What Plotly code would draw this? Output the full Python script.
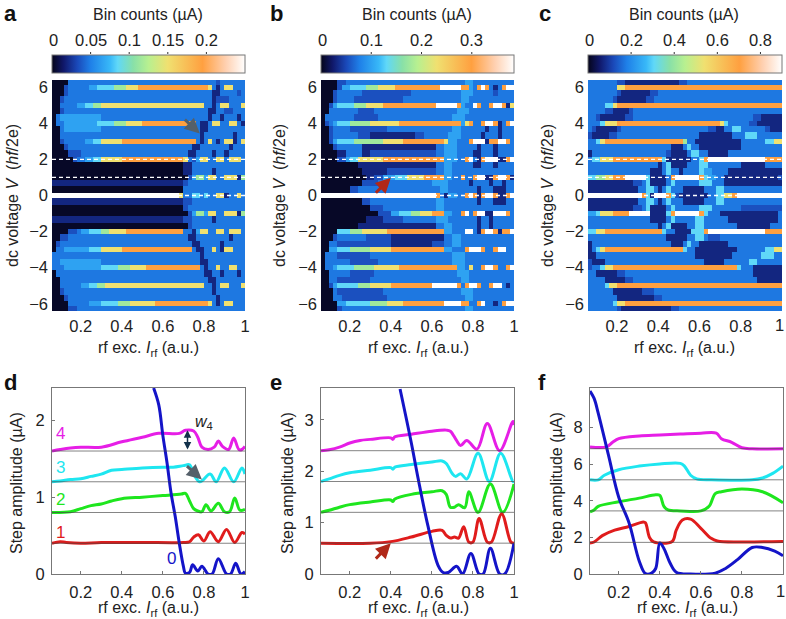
import plotly.graph_objects as go

W, H = 786, 619
FONT = "Liberation Sans"

# level -> fraction of colour range
level_frac = [0.01, 0.08, 0.14, 0.19, 0.26, 0.34, 0.46, 0.60, 0.78, 1.0]
cmax_a, cmax_b, cmax_c = 0.25, 0.384, 0.90
cb_ticks_a = [0, 0.05, 0.1, 0.15, 0.2]
cb_ticks_b = [0, 0.1, 0.2, 0.3]
cb_ticks_c = [0, 0.2, 0.4, 0.6, 0.8]
cb_text_a = ["0", "0.05", "0.1", "0.15", "0.2"]
cb_text_b = ["0", "0.1", "0.2", "0.3"]
cb_text_c = ["0", "0.2", "0.4", "0.6", "0.8"]

# Each row: runs "level:end" (end = rf excitation x 100), top of map to bottom.
rows_a = [
"0:13 2:15 3:85 2:88 3:100",
"0:12 2:14 3:24 4:29 5:36 6:41 7:48 8:81 7:83 3:85 1:87 3:90 7:94 3:100",
"0:11 2:13 3:84 1:87 3:96 2:97 3:100",
"0:10 2:12 3:84 1:86 2:92 3:100",
"0:09 3:18 4:22 5:26 6:30 7:80 3:83 1:85 3:88 7:91 3:97 7:100",
"0:09 2:11 3:82 1:85 3:90 2:93 3:100",
"0:08 3:10 4:30 3:81 1:83 3:88 1:90 3:95 1:97 3:100",
"0:08 3:11 4:28 5:36 6:42 7:50 8:76 3:78 1:81 3:84 7:87 3:92 7:95 3:97 1:99 3:100",
"0:09 3:11 4:30 3:77 1:81 3:100",
"0:09 3:77 1:80 3:87 1:88 3:94 1:95 3:100",
"0:10 2:12 3:22 4:26 5:30 7:40 8:76 3:77 1:79 3:81 7:84 3:86 1:88 3:90 7:93 3:94 1:96 3:97 7:100",
"0:11 2:13 3:74 1:77 3:85 1:86 3:91 1:93 3:100",
"0:15 2:20 3:72 1:75 3:84 1:85 3:90 1:92 3:100",
"0:16 2:18 3:22 4:25 5:30 7:40 8:70 7:72 3:74 2:76 4:78 7:82 3:85 7:90 3:92 7:97 3:100",
"0:70 1:74 3:100",
"0:70 1:73 3:84 1:85 3:100",
"0:71 2:73 4:75 6:79 4:81 7:86 3:89 7:95 1:97 6:100",
"1:70 2:72 3:100",
"0:69 3:100",
"9:68 7:70 3:73 5:78 3:80 5:82 3:85 7:90 1:92 3:95 7:98 3:100",
"1:70 2:73 3:100",
"0:69 2:72 3:100",
"0:72 2:74 4:75 6:79 4:81 7:86 3:89 7:95 1:97 6:100",
"1:70 2:73 3:84 1:85 3:100",
"0:71 2:74 3:100",
"0:15 2:17 3:20 4:24 5:30 6:34 7:42 8:70 3:74 1:76 4:78 7:82 3:85 7:90 3:92 7:97 3:100",
"0:10 2:13 3:72 1:76 3:85 1:86 3:91 1:93 3:100",
"0:08 2:10 3:74 1:77 3:88 1:89 3:100",
"0:08 3:12 4:24 5:30 7:40 8:74 3:76 1:80 3:83 7:86 3:88 1:89 3:90 7:94 3:100",
"0:07 3:77 1:80 3:100",
"0:07 3:10 4:30 3:78 1:81 3:100",
"0:07 3:11 4:30 5:38 6:44 7:52 8:77 3:79 1:82 3:85 7:88 3:92 7:95 3:100",
"0:08 3:79 1:83 3:88 1:90 3:95 1:97 3:100",
"0:09 3:82 1:85 3:100",
"0:09 3:20 4:24 5:28 6:32 7:80 3:83 1:85 3:88 7:91 3:97 7:100",
"0:10 2:12 3:84 1:86 3:100",
"0:11 2:13 3:85 1:87 3:100",
"0:13 2:15 3:24 4:30 5:38 6:44 7:56 8:81 7:83 3:86 1:88 3:90 7:94 3:100",
"0:14 2:17 3:100",
]
rows_b = [
"0:14 2:17 3:76 4:80 3:100",
"0:13 2:16 4:20 5:28 6:34 7:42 8:64 9:74 8:77 4:79 3:82 8:84 9:86 8:87 3:89 1:91 3:93 8:95 9:100",
"0:12 2:15 3:25 2:50 3:74 4:79 3:90 2:91 3:100",
"0:11 2:13 3:22 2:45 3:73 4:78 3:100",
"0:09 2:11 4:14 5:22 6:28 7:36 8:62 9:72 8:74 4:76 3:79 8:80 9:82 8:83 3:88 8:89 9:94 8:95 1:98 7:100",
"0:09 2:10 3:24 2:32 3:72 4:77 3:100",
"0:08 3:22 2:34 3:70 4:75 3:100",
"0:08 2:09 3:11 4:14 5:20 6:30 7:44 8:73 7:74 4:76 7:78 8:80 3:84 8:85 9:90 8:91 1:93 3:96 8:97 9:100",
"0:09 2:11 3:20 2:38 3:69 4:74 3:85 1:87 3:92 1:94 3:100",
"0:10 2:12 3:24 2:30 1:52 2:56 3:68 4:73 3:84 1:86 3:92 1:94 3:100",
"0:10 2:11 4:14 5:22 6:36 7:46 8:65 7:67 4:72 3:78 8:79 9:85 8:86 1:88 8:91 9:96 8:97 3:100",
"0:11 2:14 3:26 1:62 3:66 4:72 3:82 1:84 3:90 1:92 3:100",
"0:14 1:18 3:26 1:30 2:62 3:66 4:71 3:80 1:84 3:90 1:92 3:100",
"0:15 2:17 4:19 5:24 7:36 8:65 4:72 3:76 8:78 9:79 8:80 3:81 1:84 8:86 9:91 8:92 1:95 8:97 9:100",
"0:24 1:62 3:66 4:70 3:80 1:83 3:90 1:92 3:100",
"0:26 1:38 2:62 3:66 4:70 3:100",
"0:27 1:32 2:36 4:42 5:48 7:56 8:66 4:69 3:73 8:75 9:76 3:80 8:81 9:85 8:86 1:89 8:91 9:96 8:97 1:100",
"0:26 2:34 3:60 4:68 3:78 1:80 3:88 1:90 3:94 1:96 3:100",
"0:20 2:24 3:64 4:68 3:82 1:83 3:90 1:95 3:100",
"9:61 8:63 3:66 1:67 4:72 3:75 8:77 9:79 8:81 1:84 8:86 9:90 8:91 3:92 1:95 8:97 9:99 3:100",
"0:25 2:30 3:62 4:66 3:82 1:84 3:90 1:95 3:100",
"0:30 2:36 3:62 4:66 3:100",
"0:34 2:40 4:44 5:50 6:55 7:60 8:66 4:69 3:74 8:75 9:78 3:80 8:81 9:85 8:86 1:89 8:90 9:96 8:97 3:100",
"0:28 1:36 2:46 3:62 4:68 3:82 1:84 3:88 1:90 3:95 1:96 3:100",
"0:24 1:62 3:66 4:70 3:82 1:84 3:88 1:90 3:100",
"0:13 2:14 4:15 5:20 6:26 7:38 8:66 4:70 3:75 8:76 9:79 3:81 1:84 8:86 9:90 8:91 1:94 8:97 9:100",
"0:11 2:14 3:28 2:40 1:66 3:70 4:74 3:100",
"0:10 3:14 2:40 1:60 2:66 3:70 4:74 3:100",
"0:09 2:10 4:13 5:20 6:30 7:40 8:66 4:70 3:76 8:78 9:84 8:85 3:90 8:92 9:96 3:100",
"0:08 3:14 2:30 3:70 4:76 3:100",
"0:08 3:20 2:34 3:70 4:76 3:100",
"0:08 3:12 4:14 5:22 6:32 7:44 8:72 4:75 3:78 7:80 3:84 8:86 9:90 8:91 3:96 8:98 9:100",
"0:09 3:20 2:32 3:72 4:78 3:100",
"0:09 3:14 2:30 3:74 4:78 3:100",
"0:10 2:11 4:14 5:24 6:30 7:40 8:60 9:72 8:74 3:76 8:78 9:82 8:83 3:88 8:89 9:94 3:96 1:98 3:100",
"0:11 3:14 2:36 3:74 4:79 3:100",
"0:12 3:16 2:38 3:76 4:80 3:100",
"0:13 2:15 4:18 5:30 6:38 7:46 8:66 9:74 8:77 4:78 3:82 8:83 9:86 3:89 1:91 3:93 8:95 9:100",
"0:14 2:16 3:76 4:80 3:100",
]
rows_c = [
"3:20 2:23 1:50 2:54 3:100",
"3:19 5:21 7:24 8:100",
"3:20 2:22 1:36 2:40 3:100",
"3:17 2:19 1:34 2:38 3:100",
"3:15 5:17 7:20 8:100",
"3:15 2:18 1:25 2:28 3:100",
"3:10 2:12 1:24 2:27 3:85 2:90 1:100",
"3:12 5:15 7:19 8:70 7:71 5:73 3:84 2:88 1:100",
"3:08 2:10 1:19 2:22 3:64 2:68 1:72 3:75 5:80 3:91 2:94 1:100",
"2:08 1:16 2:20 3:60 1:76 3:82 5:88 3:100",
"3:09 5:11 7:15 8:52 6:53 5:55 3:58 1:80 3:92 5:96 7:100",
"1:07 3:46 1:52 3:53 5:56 3:60 1:80 3:100",
"1:08 3:43 2:45 1:55 3:57 5:60 3:64 1:74 3:100",
"3:08 5:11 7:17 8:41 5:43 1:56 3:59 5:61 8:64 9:92 8:100",
"1:07 3:39 1:41 3:43 5:45 3:46 1:55 3:60 5:63 3:80 1:92 3:100",
"1:07 3:36 1:42 3:44 5:46 3:50 1:52 3:60 5:62 4:66 3:74 1:100",
"2:07 5:10 6:14 7:18 8:24 9:34 5:36 1:43 3:45 8:48 9:59 8:61 5:64 4:68 3:72 1:97 2:100",
"1:28 2:32 3:34 5:36 1:43 3:45 5:47 3:60 5:66 3:72 1:100",
"1:30 3:34 5:37 3:39 1:41 3:43 5:45 3:52 1:62 3:68 5:71 3:100",
"9:31 8:33 5:36 1:37 5:38 9:43 8:45 5:47 2:50 1:64 3:68 5:72 7:75 8:78 9:100",
"1:30 3:34 5:37 3:39 1:41 3:43 5:45 3:52 1:62 3:68 5:71 3:100",
"1:28 2:32 3:33 5:35 1:43 3:45 5:47 3:60 5:66 3:80 2:100",
"2:07 4:09 5:12 7:17 8:26 9:35 5:36 1:43 5:45 8:47 9:59 8:62 5:64 3:70 1:97 3:100",
"1:07 3:36 1:43 3:45 5:47 3:58 5:62 3:74 1:98 3:100",
"1:07 3:39 1:42 3:43 5:45 3:46 1:55 3:58 5:61 3:78 1:94 3:100",
"3:07 5:10 7:15 8:41 5:43 3:47 1:56 5:61 8:64 9:92 8:100",
"1:07 3:43 1:45 3:46 1:55 3:58 5:61 3:64 2:70 3:100",
"1:08 3:45 1:52 3:54 5:57 3:60 1:74 3:100",
"1:08 3:09 5:11 7:15 8:51 5:53 3:58 1:78 3:92 5:96 7:100",
"1:09 3:58 1:76 3:90 5:95 3:100",
"2:08 1:13 3:62 1:72 3:83 5:88 3:100",
"2:08 3:11 5:14 7:18 8:77 5:79 3:85 1:100",
"3:10 1:20 2:24 3:86 1:100",
"3:13 1:24 2:28 3:88 1:100",
"3:14 5:16 7:19 8:100",
"3:17 1:32 2:38 3:100",
"3:19 1:37 2:42 3:100",
"3:18 5:20 7:23 8:100",
"3:20 2:22 1:45 2:50 3:100",
]

x_edges = [round(0.06 + 0.02 * i, 3) for i in range(48)]
x_mid = [(x_edges[i] + x_edges[i + 1]) / 2 for i in range(47)]

y_edges = [6.4]
for n in range(6, -7, -1):
    y_edges += [n + 0.15, n - 0.15]
    if n > -6:
        y_edges += [n - 0.5]
y_edges += [-6.4]
assert len(y_edges) == len(rows_a) + 1


def expand(rows, cmax):
    grid = []
    for row in rows:
        runs = [tuple(int(v) for v in tok.split(":")) for tok in row.split()]
        cells = []
        for xm in x_mid:
            lev = next((l for l, e in runs if xm * 100 <= e), runs[-1][0])
            cells.append(level_frac[lev] * cmax)
        grid.append(cells)
    return grid


# line traces: rf excitation, step amplitude
d0x = [.555,.58,.60,.62,.64,.66,.68,.70,.71,.73,.745,.77,.79,.82,.84,.87,.91,.93,.955,.98,1]
d0y = [2.42,2.2,1.8,1.45,1.05,.75,.4,.1,.01,.02,.12,.04,.1,.0,.0,.2,.0,.0,.14,.0,.03]
d1x = [.06,.1,.13,.2,.3,.5,.7,.73,.75,.773,.8,.83,.87,.91,.95,.985,1]
d1y = [.40,.42,.41,.40,.41,.41,.41,.42,.48,.51,.43,.55,.42,.58,.41,.54,.52]
d2x = [.06,.15,.2,.25,.3,.35,.4,.5,.6,.69,.71,.73,.75,.77,.79,.81,.835,.87,.9,.925,.95,.975,1]
d2y = [.80,.81,.85,.89,.91,.95,.98,1.0,1.02,1.04,1.05,.95,.85,.82,.81,.9,.82,.92,.81,.81,.99,.83,.84]
d3x = [.06,.1,.15,.2,.25,.3,.35,.4,.5,.6,.65,.7,.73,.75,.78,.83,.86,.9,.945,.985,1]
d3y = [1.2,1.21,1.23,1.24,1.27,1.3,1.35,1.36,1.38,1.39,1.39,1.41,1.42,1.3,1.2,1.3,1.2,1.38,1.2,1.38,1.3]
d4x = [.06,.1,.15,.2,.3,.4,.5,.58,.68,.71,.75,.77,.79,.82,.85,.87,.89,.92,.945,.97,.985,1]
d4y = [1.6,1.62,1.64,1.65,1.65,1.72,1.78,1.83,1.83,1.87,1.86,1.78,1.65,1.62,1.65,1.73,1.66,1.62,1.77,1.62,1.62,1.66]

e0x = [.445,.50,.533,.58,.63,.655,.68,.72,.75,.79,.83,.85,.885,.93,.955,1]
e0y = [3.6,2.55,1.86,.95,.17,.03,.03,.15,.0,.4,.0,.0,.5,.0,.0,.6]
e1x = [.06,.3,.4,.5,.6,.65,.67,.69,.71,.73,.755,.78,.8,.83,.87,.89,.94,.985,1]
e1y = [.6,.6,.63,.72,.83,.85,.75,.7,.72,.7,.92,.62,.62,1.08,.62,.62,1.17,.62,.6]
e2x = [.06,.1,.15,.2,.3,.4,.41,.42,.5,.6,.65,.67,.69,.71,.73,.76,.78,.825,.885,.945,1]
e2y = [1.2,1.24,1.3,1.35,1.4,1.44,1.41,1.46,1.55,1.6,1.62,1.55,1.3,1.3,1.35,1.29,1.6,1.2,1.75,1.2,1.75]
e3x = [.06,.1,.15,.2,.3,.4,.41,.42,.5,.6,.65,.67,.7,.715,.74,.77,.825,.88,.935,.995,1]
e3y = [1.8,1.85,1.92,1.97,2.02,2.07,2.04,2.08,2.13,2.18,2.2,2.15,1.95,1.9,1.95,1.85,2.35,1.8,2.35,1.8,1.8]
e4x = [.06,.1,.15,.2,.25,.3,.4,.41,.42,.5,.6,.67,.69,.72,.74,.77,.82,.87,.93,.995,1]
e4y = [2.4,2.42,2.47,2.55,2.6,2.62,2.65,2.62,2.67,2.72,2.78,2.8,2.78,2.6,2.5,2.6,2.43,2.93,2.4,2.97,2.9]

f0x = [.06,.08,.1,.15,.2,.25,.3,.33,.36,.38,.4,.42,.45,.48,.55,.67,.72,.78,.85,.9,.96,1]
f0y = [10,9.6,8.8,6.5,4.2,2.8,.7,.02,.05,.3,1.7,1.4,.6,.1,.0,.05,.3,.8,1.45,1.45,1.25,1.0]
f1x = [.06,.08,.12,.18,.25,.32,.33,.35,.37,.46,.48,.51,.55,.6,.65,.68,.8,1]
f1y = [1.7,1.75,2.1,2.4,2.6,2.85,2.8,2.0,1.75,1.78,2.4,2.95,3.0,2.5,1.95,1.8,1.75,1.78]
f2x = [.06,.08,.1,.2,.3,.38,.4,.42,.44,.5,.6,.64,.67,.7,.8,.9,1]
f2y = [3.4,3.5,3.7,3.95,4.15,4.33,4.3,3.7,3.5,3.45,3.45,3.7,4.4,4.5,4.65,4.5,3.9]
f3x = [.06,.1,.13,.2,.3,.4,.5,.52,.55,.58,.65,.85,.9,.95,1]
f3y = [5.15,5.15,5.4,5.7,5.9,6.02,6.05,5.9,5.4,5.2,5.15,5.15,5.25,5.5,5.9]
f4x = [.06,.14,.17,.2,.3,.4,.5,.6,.675,.7,.75,.8,.85,1]
f4y = [6.95,6.95,7.2,7.4,7.55,7.6,7.65,7.7,7.7,7.4,7.2,6.9,6.85,6.85]

baselines_d = [.4, .8, 1.2, 1.6]
baselines_e = [.6, 1.2, 1.8, 2.4]
baselines_f = [1.73, 3.45, 5.15, 6.85]
xticks = [.2, .4, .6, .8, 1]
xtick_text = ["0.2", "0.4", "0.6", "0.8", "1"]
vticks = [-6, -4, -2, 0, 2, 4, 6]
dashed_levels = [0, 1, 2]

line_colors = ["#1414c8", "#e01c1c", "#1ee61e", "#1ee6f0", "#e61ee6"]
scale = [[0, "#05051a"], [.06, "#10186a"], [.13, "#1a48b8"], [.2, "#1f80e8"], [.3, "#38b8f8"],
         [.34, "#60d8f8"], [.42, "#88e0a8"], [.5, "#b8f090"], [.6, "#f0e070"], [.78, "#ffa040"],
         [.9, "#ffd0b0"], [1, "#ffffff"]]

fig = go.Figure()
FRAME = "#777777"
TXT = "#222222"


def px(x): return x / W
def py(y): return 1 - y / H


panels_top = [("", 52, 245), ("2", 321, 514), ("3", 588, 782)]
panels_bot = [("4", 52, 245), ("5", 321, 514), ("6", 590, 783)]
layout = {}
tickfont = dict(family=FONT, size=16.5, color=TXT)


def axes(sfx, x0, x1, y0, y1, yr, yt):
    # the rightmost panels would have their "1" label dropped at the page edge; it is placed as text below
    tv = xticks if x1 < 600 else xticks[:-1]
    tt = xtick_text if x1 < 600 else xtick_text[:-1]
    layout["xaxis" + sfx] = dict(domain=[px(x0), px(x1)], range=[.06, 1], tickvals=tv, ticktext=tt,
                                 ticks="inside", ticklen=3, tickcolor=FRAME, showgrid=False, zeroline=False,
                                 showline=True, mirror=True, linecolor=FRAME, tickfont=tickfont,
                                 ticklabelstandoff=3, anchor="y" + sfx)
    layout["yaxis" + sfx] = dict(domain=[py(y1), py(y0)], range=yr, tickvals=yt,
                                 ticks="inside", ticklen=3, tickcolor=FRAME, showgrid=False, zeroline=False,
                                 showline=True, mirror=True, linecolor=FRAME, tickfont=tickfont,
                                 ticklabelstandoff=3, anchor="x" + sfx)


maps = [(rows_a, cmax_a, cb_ticks_a, cb_text_a), (rows_b, cmax_b, cb_ticks_b, cb_text_b),
        (rows_c, cmax_c, cb_ticks_c, cb_text_c)]
shapes = []
annots = []


def text(x, y, s, size=16, color=TXT, angle=0, bold=False, height=None):
    annots.append(dict(x=px(x), y=py(y), xref="paper", yref="paper", text=("<b>%s</b>" % s) if bold else s,
                       showarrow=False, textangle=angle, xanchor="center", yanchor="middle", height=height,
                       borderpad=0, font=dict(family=FONT, size=size, color=color)))


for (sfx, x0, x1), (rows, cmax, cbt, cbx) in zip(panels_top, maps):
    axes(sfx, x0, x1, 80, 311, [-6.4, 6.4], vticks)
    layout["xaxis" + sfx]["showline"] = False
    layout["yaxis" + sfx]["showline"] = False
    layout["xaxis" + sfx]["ticks"] = ""
    layout["yaxis" + sfx]["ticks"] = ""
    fig.add_trace(go.Heatmap(
        z=expand(rows, cmax), x=x_edges, y=y_edges, zmin=0, zmax=cmax, colorscale=scale,
        xaxis="x" + sfx, yaxis="y" + sfx, hoverinfo="skip",
        colorbar=dict(orientation="h", x=px(x0), xanchor="left", y=py(74), yanchor="bottom",
                      lenmode="pixels", len=x1 - x0, thicknessmode="pixels", thickness=18,
                      xpad=0, ypad=0, tickmode="array", tickvals=[], ticks="", showticklabels=False,
                      outlinecolor=FRAME, outlinewidth=1),
    ))
    for v, s in zip(cbt, cbx):
        xv = x0 + v / cmax * (x1 - x0)
        text(xv + (1 if v == 0 else 0), 40, s, size=16.5)
        if v > 0:
            shapes.append(dict(type="line", xref="paper", yref="paper", x0=px(xv), x1=px(xv),
                               y0=py(52), y1=py(54), line=dict(color="#333333", width=1)))
    for lv in dashed_levels:
        shapes.append(dict(type="line", xref="x" + sfx, yref="y" + sfx, x0=.06, x1=1, y0=lv, y1=lv,
                           line=dict(color="white", width=1.3, dash="4px,3px")))

series = [
    ([(d0x, d0y), (d1x, d1y), (d2x, d2y), (d3x, d3y), (d4x, d4y)], [0, 2.42], [0, 1, 2], baselines_d),
    ([(e0x, e0y), (e1x, e1y), (e2x, e2y), (e3x, e3y), (e4x, e4y)], [0, 3.62], [0, 1, 2, 3], baselines_e),
    ([(f0x, f0y), (f1x, f1y), (f2x, f2y), (f3x, f3y), (f4x, f4y)], [0, 10.17], [0, 2, 4, 6, 8], baselines_f),
]
for (sfx, x0, x1), (ser, yr, yt, bases) in zip(panels_bot, series):
    axes(sfx, x0, x1, 388, 574, yr, yt)
    for b in bases:
        shapes.append(dict(type="line", xref="x" + sfx, yref="y" + sfx, x0=.06, x1=1, y0=b, y1=b, layer="above",
                           opacity=0.65, line=dict(color="#444444", width=1)))
    for (xs, ys), col in zip(ser[::-1], line_colors[::-1]):
        fig.add_trace(go.Scatter(x=xs, y=ys, mode="lines", xaxis="x" + sfx, yaxis="y" + sfx,
                                 line=dict(color=col, width=3, shape="spline", smoothing=1.0),
                                 showlegend=False, hoverinfo="skip"))

text(779, 325, "1", size=16.5)
text(780, 591, "1", size=16.5)
for x in (148, 417, 684):
    text(x, 15, "Bin counts (µA)")
for x in (148, 418, 684):
    text(x, 349, "rf exc. <i>I</i><sub>rf</sub> (a.u.)", height=20)
for x in (148, 418, 687):
    text(x, 609, "rf exc. <i>I</i><sub>rf</sub> (a.u.)", height=20)
for x in (12, 279, 547):
    text(x, 196, "dc voltage <i>V</i>  (<i>hf</i>/2e)", angle=-90)
for x in (16, 287, 556):
    text(x, 483, "Step amplitude (µA)", angle=-90)
for s, x, y in [("a", 10, 13), ("b", 276, 13), ("c", 545, 13), ("d", 10, 382), ("e", 276, 382), ("f", 542, 382)]:
    text(x, y, s, size=22, color="#111111", bold=True)


def data_text(sfx, x, y, s, color, size=15):
    annots.append(dict(x=x, y=y, xref="x" + sfx, yref="y" + sfx, text=s, showarrow=False,
                       font=dict(family=FONT, size=size, color=color)))


data_text("4", .10, 1.83, "4", line_colors[4], 17)
data_text("4", .10, 1.39, "3", line_colors[3], 17)
data_text("4", .10, .97, "2", line_colors[2], 17)
data_text("4", .10, .54, "1", line_colors[1], 17)
data_text("4", .64, .2, "0", line_colors[0], 17)
data_text("4", .80, 1.97, "<i>w</i><sub>4</sub>", "#222222", 16)


def arrow(sfx, x0, y0, x1, y1, col, width=3, both=False, size=1):
    annots.append(dict(x=x1, y=y1, ax=x0, ay=y0, xref="x" + sfx, yref="y" + sfx,
                       axref="x" + sfx, ayref="y" + sfx, text="", showarrow=True,
                       arrowhead=2, arrowsize=size, startarrowhead=2, startarrowsize=size,
                       arrowwidth=width, arrowcolor=col,
                       arrowside="end+start" if both else "end"))


arrow("", .70, 4.28, .78, 3.44, "#55606a")
arrow("2", .32, .07, .40, .98, "#b02818")
arrow("4", .71, 1.42, .79, 1.23, "#55606a")
arrow("4", .72, 1.6, .72, 1.87, "#12304a", 1.5, both=True)
arrow("5", .32, .27, .40, .6, "#b02818")

fig.update_layout(width=W, height=H, margin=dict(l=0, r=0, t=0, b=0, autoexpand=False), showlegend=False,
                  paper_bgcolor="white", plot_bgcolor="white", shapes=shapes, annotations=annots,
                  font=dict(family=FONT), **layout)
fig.write_html("out.html", config={"displayModeBar": False},
               post_script="document.body.style.margin='0';document.body.style.overflow='hidden';")
